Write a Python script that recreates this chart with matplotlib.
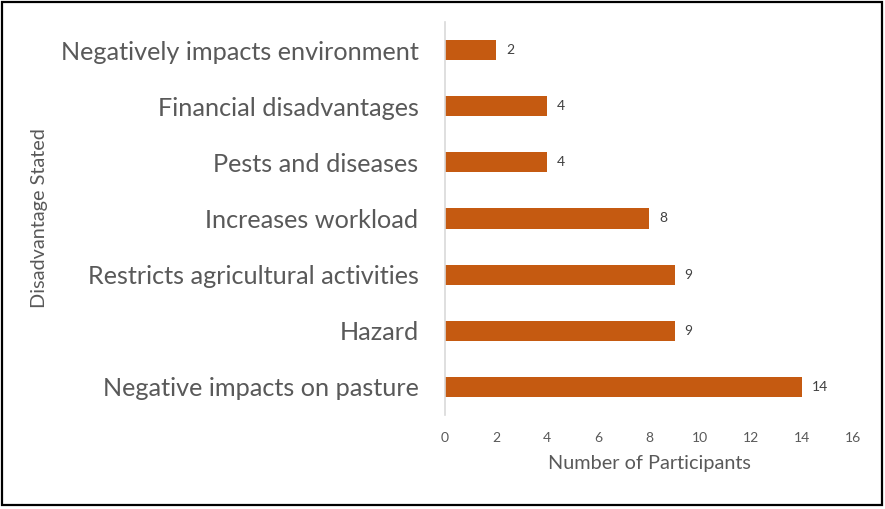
import matplotlib
matplotlib.use("Agg")
import matplotlib.pyplot as plt
from matplotlib.patches import Rectangle

categories = [
    "Negative impacts on pasture",
    "Hazard",
    "Restricts agricultural activities",
    "Increases workload",
    "Pests and diseases",
    "Financial disadvantages",
    "Negatively impacts environment",
]
counts = [14, 9, 9, 8, 4, 4, 2]
xticks = [0, 2, 4, 6, 8, 10, 12, 14, 16]

plt.rcParams['font.family'] = ['Lato', 'DejaVu Sans']

W, H = 885, 509
fig = plt.figure(figsize=(W / 100, H / 100), dpi=100)

# axes placed in pixel terms
left, right, top, bottom = 445, 853, 22, 415
ax = fig.add_axes([left / W, 1 - bottom / H, (right - left) / W, (bottom - top) / H])

bar_color = "#C55A11"
ypos = list(range(len(categories)))
ax.barh(ypos, counts, height=0.36, color=bar_color)
ax.set_ylim(-0.5, len(categories) - 0.5)
ax.set_xlim(0, 16)

ax.set_yticks(ypos)
ax.set_yticklabels(categories, fontsize=18.2, color="#595959")
ax.tick_params(axis="y", length=0, pad=19)
ax.set_xticks(xticks)
ax.set_xticklabels([str(t) for t in xticks], fontsize=10, color="#595959")
ax.tick_params(axis="x", length=0, pad=12)

for s in ["top", "right", "bottom"]:
    ax.spines[s].set_visible(False)
ax.spines["left"].set_color("#D9D9D9")
ax.spines["left"].set_linewidth(1.2)

for y, v in zip(ypos, counts):
    ax.text(v + 0.4, y, str(v), va="center", ha="left", fontsize=10, color="#404040")

ax.set_xlabel("Number of Participants", fontsize=14.3, color="#595959", labelpad=8)
fig.text(40 / W, 1 - 218 / H, "Disadvantage Stated", rotation=90, ha="center", va="center",
         fontsize=14.3, color="#595959")

# outer frame
fig.patches.append(Rectangle((2 / W, 4 / H), 880 / W, 503 / H, transform=fig.transFigure,
                             fill=False, edgecolor="black", linewidth=1.6))

fig.savefig("out.png", dpi=100)
